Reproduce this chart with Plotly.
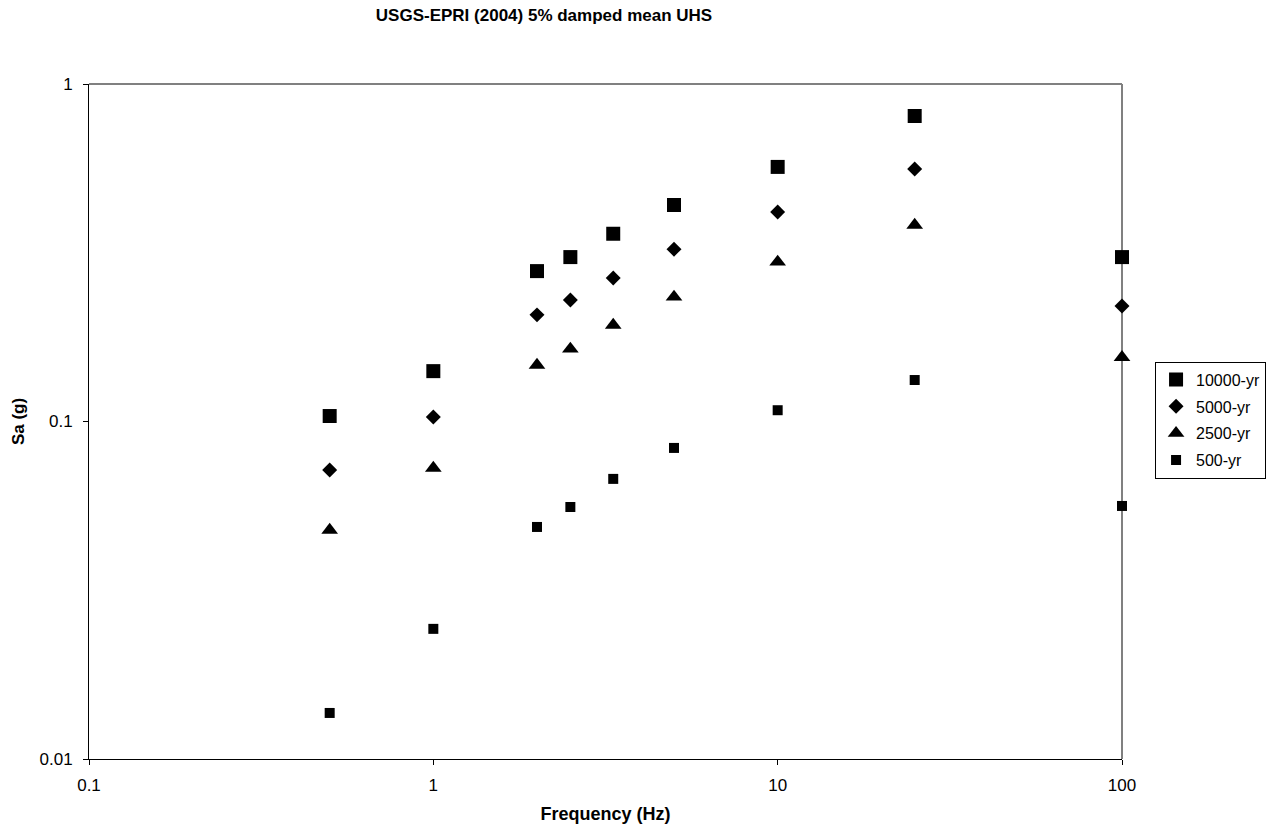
import plotly.graph_objects as go

freq = [0.5, 1, 2, 2.5, 3.33, 5, 10, 25, 100]
sa_10000 = [0.1038, 0.141, 0.279, 0.307, 0.360, 0.438, 0.568, 0.804, 0.307]
sa_5000 = [0.0718, 0.1031, 0.207, 0.229, 0.266, 0.324, 0.4175, 0.560, 0.220]
sa_2500 = [0.0477, 0.0728, 0.147, 0.164, 0.193, 0.234, 0.297, 0.382, 0.155]
sa_500 = [0.01369, 0.0243, 0.0487, 0.0558, 0.0676, 0.0835, 0.108, 0.1327, 0.0562]

series = [
    ("10000-yr", sa_10000, "square", 14),
    ("5000-yr", sa_5000, "diamond", 11.5),
    ("2500-yr", sa_2500, "triangle-up", 14.5),
    ("500-yr", sa_500, "square", 10),
]

fig = go.Figure()
for i, (name, vals, sym, sz) in enumerate(series):
    fig.add_trace(go.Scatter(
        x=freq, y=vals, mode="markers", name=name, legendgroup=f"g{i}",
        cliponaxis=False,
        marker=dict(symbol=sym, size=sz, color="black", line=dict(width=0)),
    ))

font_family = "Liberation Sans, Arial, sans-serif"

fig.update_layout(
    width=1270, height=835,
    margin=dict(l=89, r=148, t=84, b=76, autoexpand=False),
    paper_bgcolor="white", plot_bgcolor="white",
    font=dict(family=font_family, color="black", size=16),
    title=dict(text="<b>USGS-EPRI (2004) 5% damped mean UHS</b>",
               x=(544 - 89) / 1033, xanchor="center", xref="paper",
               y=1 - 15 / 835, yanchor="middle",
               font=dict(size=17, family=font_family)),
    showlegend=True,
    legend=dict(x=1.032, xanchor="left", y=0.502, yanchor="middle",
                bordercolor="black", borderwidth=1, bgcolor="white",
                font=dict(size=16, family=font_family),
                itemsizing="trace", tracegroupgap=3, itemwidth=30),
    xaxis=dict(type="log", range=[-1, 2], showgrid=False, zeroline=False,
               showline=True, linecolor="black", linewidth=1,
               ticks="outside", ticklen=5, tickcolor="black",
               tickvals=[0.1, 1, 10, 100], ticktext=["0.1", "1", "10", "100"],
               tickfont=dict(size=17), ticklabelstandoff=6,
               title=dict(text="<b>Frequency (Hz)</b>", font=dict(size=18), standoff=12)),
    yaxis=dict(type="log", range=[-2, 0], showgrid=False, zeroline=False,
               showline=True, linecolor="black", linewidth=1,
               ticks="outside", ticklen=5, tickcolor="black",
               tickvals=[0.01, 0.1, 1], ticktext=["0.01", "0.1", "1"],
               tickfont=dict(size=17), ticklabelstandoff=7,
               title=dict(text="<b>Sa (g)</b>", font=dict(size=17), standoff=10)),
)

# gray top and right frame lines
fig.add_shape(type="line", xref="paper", yref="paper", x0=0, x1=1, y0=1, y1=1,
              layer="below", line=dict(color="#808080", width=2))
fig.add_shape(type="line", xref="paper", yref="paper", x0=1, x1=1, y0=0, y1=1,
              layer="below", line=dict(color="#808080", width=2))

fig.write_html("out.html")
